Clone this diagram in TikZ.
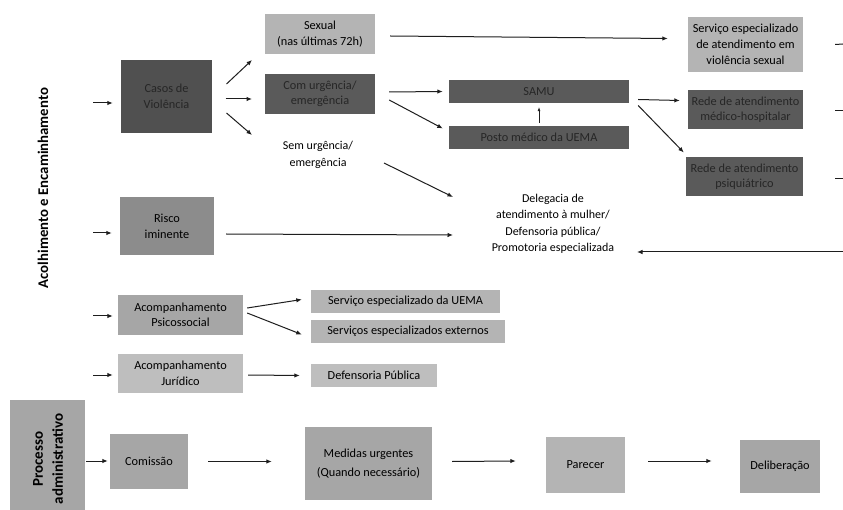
\documentclass[tikz,border=0pt]{standalone}
\usepackage{fontspec}
\setmainfont{Carlito}
\usetikzlibrary{calc,arrows.meta}
\definecolor{dk}{HTML}{5A5A5A}
\definecolor{dk2}{HTML}{505050}
\definecolor{md}{HTML}{8C8C8C}
\definecolor{lt}{HTML}{B4B4B4}
\definecolor{lt2}{HTML}{A6A6A6}
\definecolor{lt3}{HTML}{BEBEBE}
\definecolor{ln}{HTML}{1E1E1E}
\tikzset{
  box/.style={inner sep=1pt, align=center, font=\fontsize{12.3}{15.5}\selectfont, text=black},
  dkbox/.style={box, fill=dk, text=black!85},
  mdbox/.style={box, fill=md, text=black},
  ltbox/.style={box, fill=lt},
  lt2box/.style={box, fill=lt2},
  lt3box/.style={box, fill=lt3},
  plain/.style={align=center, font=\fontsize{12}{16.5}\selectfont, inner sep=0pt},
  arr/.style={draw=ln, line width=1pt, -{Latex[length=5.5pt,width=4.5pt]}},
  ln0/.style={draw=ln, line width=1pt},
}
\begin{document}
\begin{tikzpicture}[x=1pt,y=-1pt]
\useasboundingbox (0,0) rectangle (843,510);
\fill[white] (0,0) rectangle (843,510);
% side label
\node[rotate=90, font=\bfseries\fontsize{14.8}{18}\selectfont] (lbl) at (43,188) {Acolhimento e Encaminhamento};
% top group
\node[dkbox, fill=dk2, minimum width=91, minimum height=73, font=\fontsize{12.3}{16}\selectfont] (casos) at (166.5,96.5) {Casos de\\Violência};
\node[ltbox, minimum width=110, minimum height=40] (sexual) at (320,34) {Sexual\\(nas últimas 72h)};
\node[dkbox, minimum width=110, minimum height=40] (comurg) at (320,94) {Com urgência/\\emergência};
\node[plain] (semurg) at (318,155) {Sem urgência/\\emergência};
\node[dkbox, minimum width=180, minimum height=23] (samu) at (539,91.5) {SAMU};
\node[dkbox, minimum width=180, minimum height=23] (posto) at (539,137.5) {Posto médico da UEMA};
\node[ltbox, minimum width=115, minimum height=55, font=\fontsize{12.3}{16}\selectfont] (servsex) at (745.5,44.5) {Serviço especializado\\de atendimento em\\violência sexual};
\node[dkbox, minimum width=115, minimum height=39] (redemed) at (745.5,109.5) {Rede de atendimento\\médico-hospitalar};
\node[dkbox, minimum width=117, minimum height=39] (redepsi) at (744.5,176.5) {Rede de atendimento\\psiquiátrico};
\node[plain] (deleg) at (553,224) {Delegacia de\\atendimento à mulher/\\Defensoria pública/\\Promotoria especializada};
\node[mdbox, minimum width=94, minimum height=58, font=\fontsize{12.3}{16}\selectfont] (risco) at (167,226) {Risco\\iminente};
% middle group
\node[lt2box, minimum width=125, minimum height=40] (psico) at (180.5,315) {Acompanhamento\\Psicossocial};
\node[ltbox, minimum width=189, minimum height=23] (servuema) at (405.5,301.5) {Serviço especializado da UEMA};
\node[ltbox, minimum width=194, minimum height=23] (servext) at (408,331.5) {Serviços especializados externos};
\node[lt3box, minimum width=125, minimum height=39] (jur) at (180.5,373.5) {Acompanhamento\\Jurídico};
\node[lt3box, minimum width=126, minimum height=23] (defp) at (374,375.5) {Defensoria Pública};
% bottom group
\fill[lt2] (10,400) rectangle (85,515);
\node[rotate=90, align=center, font=\bfseries\fontsize{15}{20}\selectfont, inner sep=0pt] (proc) at (48,459) {Processo\\administrativo};
\coordinate (procR) at (86,461);
\node[lt2box, minimum width=78, minimum height=55] (comissao) at (149,461.5) {Comissão};
\node[lt2box, minimum width=127, minimum height=73, font=\fontsize{12.3}{19}\selectfont] (medidas) at (368.5,463.5) {Medidas urgentes\\(Quando necessário)};
\node[ltbox, minimum width=79, minimum height=56] (parecer) at (585.5,465) {Parecer};
\node[lt2box, minimum width=80, minimum height=53] (delib) at (780,466.5) {Deliberação};
% entry arrows
\coordinate (e1) at (93,103);
\coordinate (e2) at (93,233);
\coordinate (e3) at (93,316);
\coordinate (e4) at (93,375);
\draw[arr] (e1) -- ($(casos.west|-e1)+(-8,0)$);
\draw[arr] (e2) -- ($(risco.west|-e2)+(-8,0)$);
\draw[arr] (e3) -- ($(psico.west|-e3)+(-5,0)$);
\draw[arr] (e4) -- ($(jur.west|-e4)+(-5,0)$);
\draw[arr] (procR) -- ($(comissao.west|-procR)+(-2,0)$);
% casos arrows
\draw[arr] ($(casos.center)+(60,-12.5)$) -- ($(comurg.center)+(-68,-34)$);
\draw[arr] ($(casos.center)+(59,2.5)$) -- ($(comurg.center)+(-68,5)$);
\draw[arr] ($(casos.center)+(60,16.5)$) -- ($(comurg.center)+(-68,41)$);
% sexual line
\draw[arr] ($(sexual.east)+(15,2)$) -- ($(servsex.west)+(-20,-6)$);
% com urgencia arrows
\draw[arr] ($(comurg.east)+(14,-2)$) -- ($(samu.west)+(-6,0)$);
\draw[arr] ($(comurg.east)+(14,6)$) -- ($(posto.west)+(-6,-9)$);
% posto to samu
\draw[draw=ln, line width=0.6pt, -{Latex[length=4pt,width=3pt]}] ($(posto.north)+(0,-3)$) -- ($(samu.south)+(0,4)$);
% samu arrows
\draw[arr] ($(samu.east)+(9,8)$) -- ($(redemed.west)+(-8,-9)$);
\draw[arr] ($(samu.east)+(9,14)$) -- ($(redepsi.west)+(-2,-24)$);
% sem urgencia to delegacia
\draw[arr] ($(semurg.center)+(66,8)$) -- ($(deleg.center)+(-100,-27)$);
% risco to delegacia
\draw[arr] ($(risco.center)+(59,8)$) -- ($(deleg.center)+(-100,11)$);
% right edge stubs
\coordinate (r1) at (843,44);
\coordinate (r2) at (843,111);
\coordinate (r3) at (843,179);
\coordinate (r4) at (843,252);
\draw[ln0] ($(servsex.east)+(32,0)$) -- (r1);
\draw[ln0] ($(redemed.east)+(32,1.5)$) -- (r2);
\draw[ln0] ($(redepsi.east)+(32,2.5)$) -- (r3);
\draw[arr] (r4) -- ($(deleg.center)+(84,28)$);
% psico arrows
\draw[arr] ($(psico.east)+(4,-7)$) -- ($(servuema.west)+(-9,-2)$);
\draw[arr] ($(psico.east)+(4,-2)$) -- ($(servext.west)+(-9,3)$);
\draw[arr] ($(jur.east)+(5,1.5)$) -- ($(defp.west)+(-11,0)$);
% bottom arrows
\draw[arr] ($(comissao.east)+(20,0)$) -- ($(medidas.west)+(-33,-2)$);
\draw[arr] ($(medidas.east)+(20,-2)$) -- ($(parecer.west)+(-30,-4)$);
\draw[arr] ($(parecer.east)+(23,-4)$) -- ($(delib.west)+(-28,-5.5)$);
\end{tikzpicture}
\end{document}
